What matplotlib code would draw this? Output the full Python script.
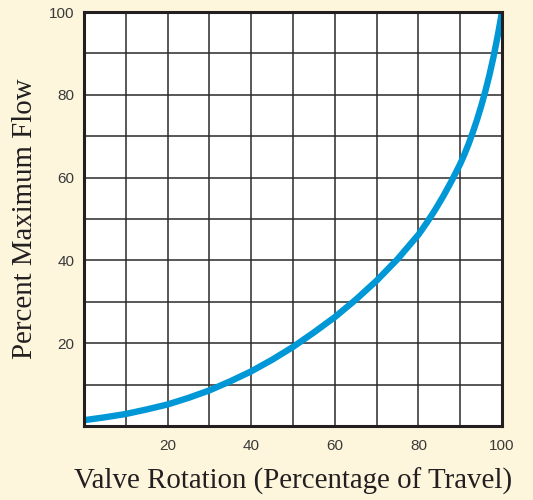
import matplotlib
matplotlib.use("Agg")
import matplotlib.pyplot as plt
from matplotlib.ticker import MultipleLocator, FixedLocator

# Data
valve_rotation = [0, 5, 10, 15, 20, 25, 30, 35, 40, 45, 50, 55, 60, 65, 70, 75,
                  80, 82, 84, 86, 88, 90, 91, 92, 93, 94, 95, 96, 97, 98, 99, 100]
percent_flow = [1.4, 2.1, 2.9, 4.0, 5.2, 6.8, 8.6, 10.8, 13.2, 16.0, 19.1, 22.6,
                26.3, 30.5, 35.1, 40.3, 46.2, 49.1, 52.2, 55.6, 59.3, 63.3, 65.6,
                68.1, 70.9, 73.9, 77.2, 80.8, 84.8, 89.3, 94.4, 100.0]

x_ticks = [20, 40, 60, 80, 100]
y_ticks = [20, 40, 60, 80, 100]
x_label = "Valve Rotation (Percentage of Travel)"
y_label = "Percent Maximum Flow"

bg = "#fdf6dc"
text_col = "#231f20"

fig = plt.figure(figsize=(5.33, 5.0), dpi=100, facecolor=bg)
ax = fig.add_axes([84/533, 1 - 426/500, (502 - 84)/533, (426 - 12)/500])
ax.set_facecolor("white")

ax.set_xlim(0, 100)
ax.set_ylim(0, 100)

ax.xaxis.set_major_locator(FixedLocator(x_ticks))
ax.yaxis.set_major_locator(FixedLocator(y_ticks))
ax.xaxis.set_minor_locator(MultipleLocator(10))
ax.yaxis.set_minor_locator(MultipleLocator(10))

ax.grid(which="both", color="#2a2a2a", linewidth=1.1)
ax.set_axisbelow(True)

ax.plot(valve_rotation, percent_flow, color="#0097d7", linewidth=4.6,
        solid_capstyle="butt", solid_joinstyle="round", zorder=3)

for s in ax.spines.values():
    s.set_linewidth(2.2)
    s.set_color("#231f20")
    s.set_zorder(4)

ax.tick_params(which="both", length=0)
ax.tick_params(axis="x", pad=9)
ax.tick_params(axis="y", pad=7)
for lab in ax.get_xticklabels() + ax.get_yticklabels():
    lab.set_fontfamily("Liberation Sans")
    lab.set_fontsize(11)
    lab.set_color("#3a3a3a")

ax.set_xlabel(x_label, fontfamily="Liberation Serif", fontsize=20.8,
              color=text_col, labelpad=11)
ax.set_ylabel(y_label, fontfamily="Liberation Serif", fontsize=20.8,
              color=text_col, labelpad=8)

fig.savefig("out.png", dpi=100, facecolor=bg)
